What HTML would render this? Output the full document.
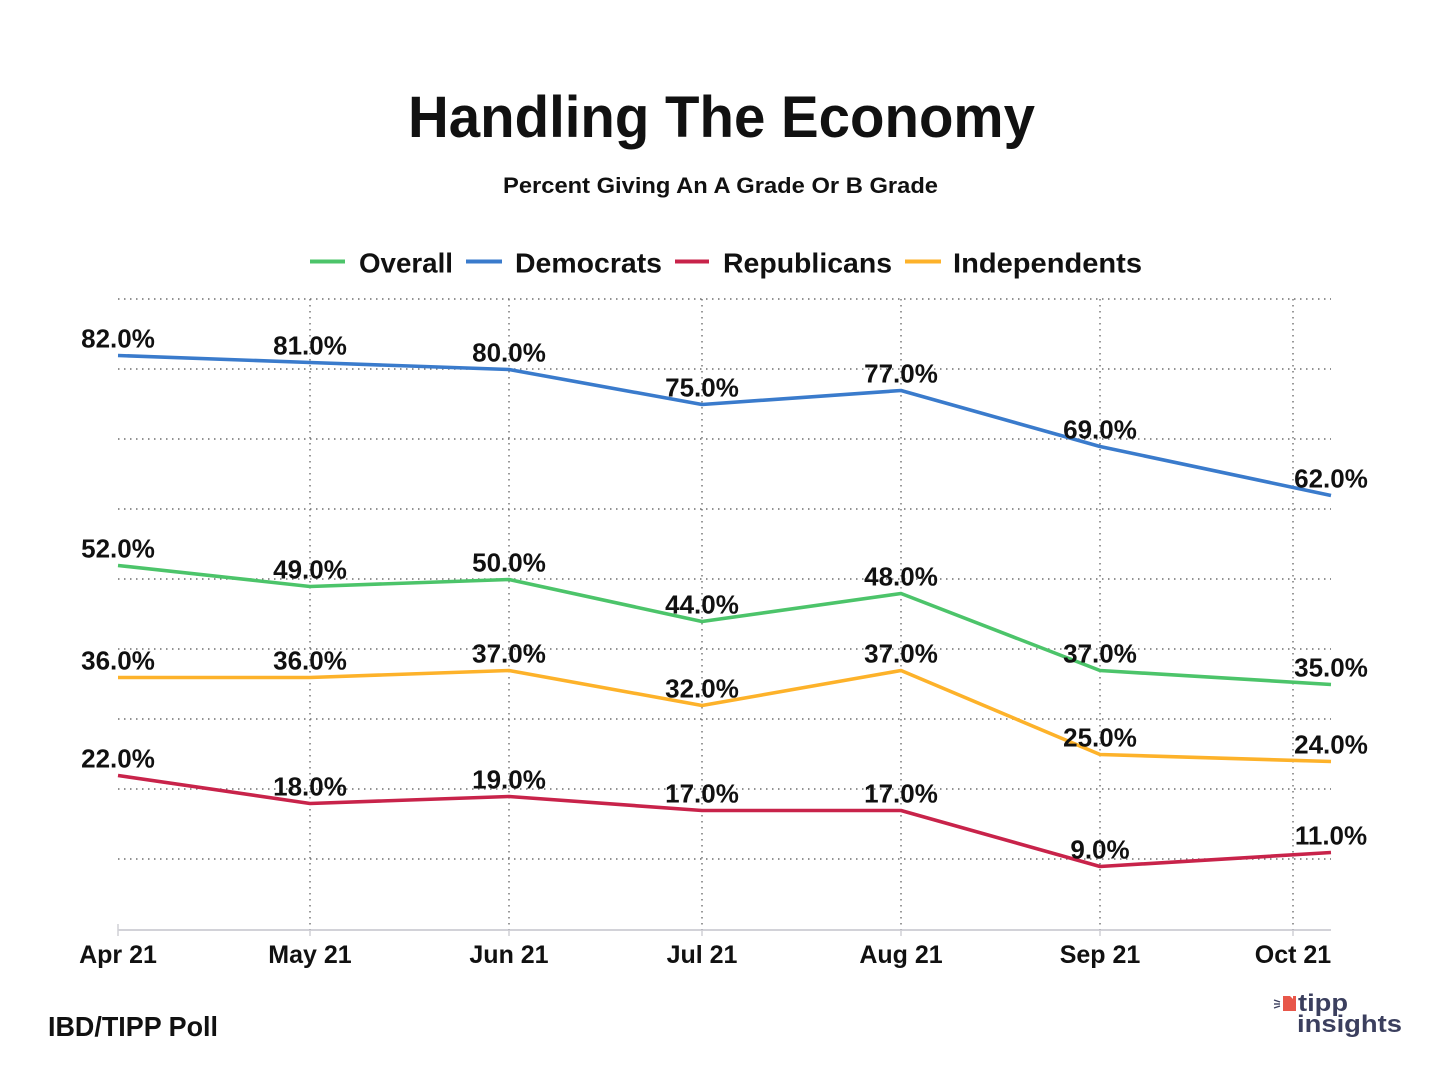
<!DOCTYPE html>
<html>
<head>
<meta charset="utf-8">
<style>
  html,body{margin:0;padding:0;background:#fff;}
  svg{display:block;}
  text{font-family:"Liberation Sans",sans-serif;fill:#111;}
</style>
</head>
<body>
<svg width="1440" height="1080" viewBox="0 0 1440 1080" xmlns="http://www.w3.org/2000/svg">
  <rect width="1440" height="1080" fill="#fff"/>

  <!-- Title -->
  <text x="408" y="137" font-size="58" font-weight="bold" textLength="627" lengthAdjust="spacingAndGlyphs">Handling The Economy</text>
  <text x="503" y="193" font-size="22" font-weight="bold" textLength="435" lengthAdjust="spacingAndGlyphs">Percent Giving An A Grade Or B Grade</text>

  <!-- Legend -->
  <line x1="310" y1="261.5" x2="345" y2="261.5" stroke="#4cc46a" stroke-width="4"/>
  <text x="359" y="272.5" font-size="28" font-weight="bold" textLength="94" lengthAdjust="spacingAndGlyphs">Overall</text>
  <line x1="466" y1="261.5" x2="502" y2="261.5" stroke="#3a7bcc" stroke-width="4"/>
  <text x="515" y="272.5" font-size="28" font-weight="bold" textLength="147" lengthAdjust="spacingAndGlyphs">Democrats</text>
  <line x1="675" y1="261.5" x2="709" y2="261.5" stroke="#c8234a" stroke-width="4"/>
  <text x="723" y="272.5" font-size="28" font-weight="bold" textLength="169" lengthAdjust="spacingAndGlyphs">Republicans</text>
  <line x1="905" y1="261.5" x2="941" y2="261.5" stroke="#fdb22a" stroke-width="4"/>
  <text x="953" y="272.5" font-size="28" font-weight="bold" textLength="189" lengthAdjust="spacingAndGlyphs">Independents</text>

  <!-- Horizontal gridlines -->
  <g stroke="#6f6f6f" stroke-width="1.4" stroke-dasharray="1.5 4.5">
    <line x1="118" y1="299" x2="1331" y2="299"/>
    <line x1="118" y1="369" x2="1331" y2="369"/>
    <line x1="118" y1="439" x2="1331" y2="439"/>
    <line x1="118" y1="509" x2="1331" y2="509"/>
    <line x1="118" y1="579" x2="1331" y2="579"/>
    <line x1="118" y1="649" x2="1331" y2="649"/>
    <line x1="118" y1="719" x2="1331" y2="719"/>
    <line x1="118" y1="789" x2="1331" y2="789"/>
    <line x1="118" y1="859" x2="1331" y2="859"/>
  </g>
  <!-- Vertical gridlines -->
  <g stroke="#6f6f6f" stroke-width="1.4" stroke-dasharray="1.5 4.5">
    <line x1="310" y1="299" x2="310" y2="930"/>
    <line x1="509" y1="299" x2="509" y2="930"/>
    <line x1="702" y1="299" x2="702" y2="930"/>
    <line x1="901" y1="299" x2="901" y2="930"/>
    <line x1="1100" y1="299" x2="1100" y2="930"/>
    <line x1="1293" y1="299" x2="1293" y2="930"/>
  </g>

  <!-- Axis -->
  <line x1="118" y1="930" x2="1331" y2="930" stroke="#c4c4cc" stroke-width="1.5"/>
  <g stroke="#d0d0d6" stroke-width="1.5">
    <line x1="118" y1="924" x2="118" y2="936"/>
    <line x1="310" y1="930" x2="310" y2="936"/>
    <line x1="509" y1="930" x2="509" y2="936"/>
    <line x1="702" y1="930" x2="702" y2="936"/>
    <line x1="901" y1="930" x2="901" y2="936"/>
    <line x1="1100" y1="930" x2="1100" y2="936"/>
    <line x1="1293" y1="930" x2="1293" y2="936"/>
  </g>

  <!-- X labels -->
  <g font-size="25" font-weight="bold" text-anchor="middle">
    <text x="118" y="963">Apr 21</text>
    <text x="310" y="963">May 21</text>
    <text x="509" y="963">Jun 21</text>
    <text x="702" y="963">Jul 21</text>
    <text x="901" y="963">Aug 21</text>
    <text x="1100" y="963">Sep 21</text>
    <text x="1293" y="963">Oct 21</text>
  </g>

  <!-- Series -->
  <g fill="none" stroke-width="3.6" stroke-linejoin="round">
    <polyline stroke="#3a7bcc" points="118,355.5 310,362.5 509,369.5 702,404.5 901,390.5 1100,446.5 1331,495.5"/>
    <polyline stroke="#4cc46a" points="118,565.5 310,586.5 509,579.5 702,621.5 901,593.5 1100,670.5 1331,684.5"/>
    <polyline stroke="#fdb22a" points="118,677.5 310,677.5 509,670.5 702,705.5 901,670.5 1100,754.5 1331,761.5"/>
    <polyline stroke="#c8234a" points="118,775.5 310,803.5 509,796.5 702,810.5 901,810.5 1100,866.5 1331,852.5"/>
  </g>

  <!-- Data labels -->
  <g font-size="26" font-weight="bold" text-anchor="middle">
    <!-- Democrats -->
    <text x="118" y="347.5">82.0%</text>
    <text x="310" y="354.5">81.0%</text>
    <text x="509" y="361.5">80.0%</text>
    <text x="702" y="396.5">75.0%</text>
    <text x="901" y="382.5">77.0%</text>
    <text x="1100" y="438.5">69.0%</text>
    <text x="1331" y="487.5">62.0%</text>
    <!-- Overall -->
    <text x="118" y="557.5">52.0%</text>
    <text x="310" y="578.5">49.0%</text>
    <text x="509" y="571.5">50.0%</text>
    <text x="702" y="613.5">44.0%</text>
    <text x="901" y="585.5">48.0%</text>
    <text x="1100" y="662.5">37.0%</text>
    <text x="1331" y="676.5">35.0%</text>
    <!-- Independents -->
    <text x="118" y="669.5">36.0%</text>
    <text x="310" y="669.5">36.0%</text>
    <text x="509" y="662.5">37.0%</text>
    <text x="702" y="697.5">32.0%</text>
    <text x="901" y="662.5">37.0%</text>
    <text x="1100" y="746.5">25.0%</text>
    <text x="1331" y="753.5">24.0%</text>
    <!-- Republicans -->
    <text x="118" y="767.5">22.0%</text>
    <text x="310" y="795.5">18.0%</text>
    <text x="509" y="788.5">19.0%</text>
    <text x="702" y="802.5">17.0%</text>
    <text x="901" y="802.5">17.0%</text>
    <text x="1100" y="858.5">9.0%</text>
    <text x="1331" y="844.5">11.0%</text>
  </g>

  <!-- Footer -->
  <text x="48" y="1036" font-size="28" font-weight="bold" textLength="170" lengthAdjust="spacingAndGlyphs">IBD/TIPP Poll</text>

  <!-- Logo -->
  <g>
    <rect x="1283" y="996" width="13" height="15" fill="#e8574a"/>
    <polygon points="1290,996 1293,996 1293,999" fill="#fff"/>
    <g stroke="#3b3f5e" stroke-width="1.4">
      <line x1="1274" y1="1000" x2="1280" y2="1002"/>
      <line x1="1274" y1="1004" x2="1280" y2="1004"/>
      <line x1="1274" y1="1008" x2="1280" y2="1006"/>
    </g>
    <text x="1298" y="1011" font-size="24" font-weight="bold" style="fill:#3b3f5e" textLength="50" lengthAdjust="spacingAndGlyphs">tipp</text>
    <text x="1297" y="1032" font-size="24" font-weight="bold" style="fill:#3b3f5e" textLength="105" lengthAdjust="spacingAndGlyphs">insights</text>
  </g>
</svg>
</body>
</html>
